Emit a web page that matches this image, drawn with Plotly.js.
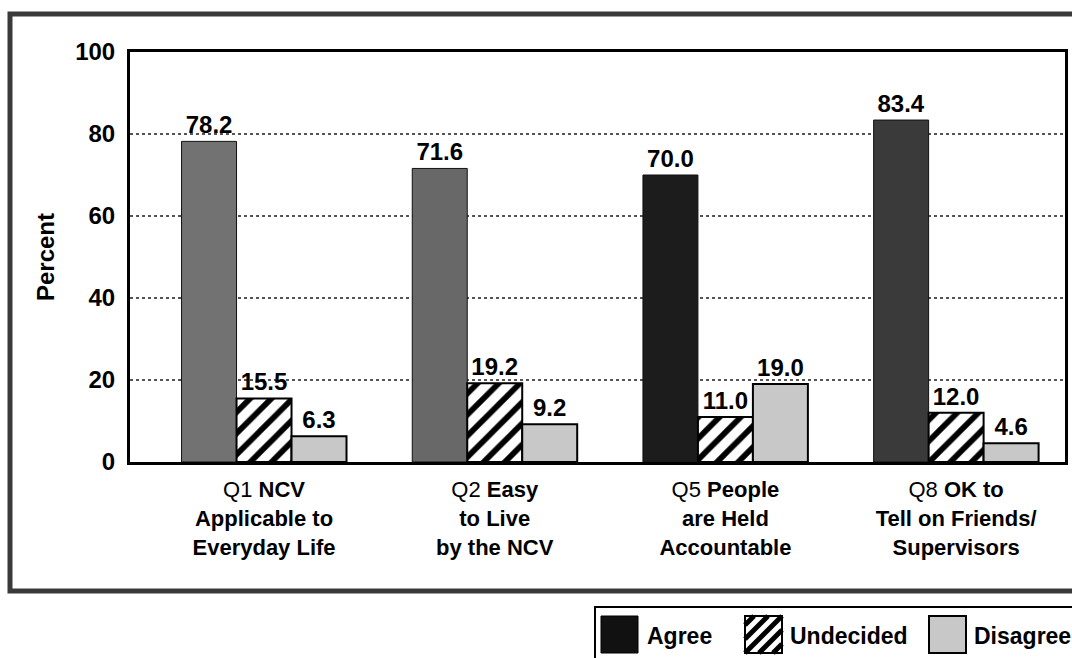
<!DOCTYPE html>
<html>
<head>
<meta charset="utf-8">
<script src="https://cdn.plot.ly/plotly-3.0.1.min.js"></script>
<style>html,body{margin:0;padding:0;background:#fff;}#chart{width:1072px;height:658px;}</style>
</head>
<body>
<div id="chart"></div>
<script>
const categories = [
  "Q1 <b>NCV</b><br><b>Applicable to</b><br><b>Everyday Life</b>",
  "Q2 <b>Easy</b><br><b>to Live</b><br><b>by the NCV</b>",
  "Q5 <b>People</b><br><b>are Held</b><br><b>Accountable</b>",
  "Q8 <b>OK to</b><br><b>Tell on Friends/</b><br><b>Supervisors</b>"
];
const seriesNames = ["Agree", "Undecided", "Disagree"];
const agree = [78.2, 71.6, 70.0, 83.4];
const undecided = [15.5, 19.2, 11.0, 12.0];
const disagree = [6.3, 9.2, 19.0, 4.6];
const yTicks = [0, 20, 40, 60, 80, 100];

const FONT = "Liberation Sans, Arial, Helvetica, sans-serif";
const agreeColors = ["#727272", "#686868", "#1c1c1c", "#3a3a3a"];

// plot-area pixel geometry helpers (for decorations only)
const L = 130, R = 1065, T = 52, B = 462;
const px = x => (x - L) / (R - L);
const py = y => (B - y) / (B - T);

const valText = {size: 24, color: "#000", family: FONT, weight: "bold"};

const traces = [
  {
    type: "bar", name: seriesNames[0], x: categories, y: agree,
    marker: {color: agreeColors, line: {color: "#111", width: 1}},
    text: agree.map(v => v.toFixed(1)), textposition: "outside",
    textfont: valText, cliponaxis: false, constraintext: "none", showlegend: false, hoverinfo: "skip"
  },
  {
    type: "bar", name: seriesNames[1], x: categories, y: undecided,
    marker: {color: "#fff", line: {color: "#000", width: 2},
      pattern: {shape: "/", size: 15, solidity: 0.38, fgcolor: "#000", bgcolor: "#fff", fillmode: "replace"}},
    text: undecided.map(v => v.toFixed(1)), textposition: "outside",
    textfont: valText, cliponaxis: false, constraintext: "none", showlegend: false, hoverinfo: "skip"
  },
  {
    type: "bar", name: seriesNames[2], x: categories, y: disagree,
    marker: {color: "#c8c8c8", line: {color: "#000", width: 2}},
    text: disagree.map(v => v.toFixed(1)), textposition: "outside",
    textfont: valText, cliponaxis: false, constraintext: "none", showlegend: false, hoverinfo: "skip"
  }
];

const shapes = [];
const annotations = [];
// outer frame
shapes.push({type: "rect", xref: "paper", yref: "paper",
  x0: px(10), x1: px(1100), y0: py(14), y1: py(591),
  line: {color: "#3a3a3a", width: 5}, fillcolor: "rgba(0,0,0,0)", layer: "below"});
// legend box (cut off at the right and bottom edges like the reference)
shapes.push({type: "rect", xref: "paper", yref: "paper",
  x0: px(595), x1: px(1100), y0: py(607), y1: py(680),
  line: {color: "#000", width: 2}, fillcolor: "rgba(0,0,0,0)"});
const sw = 37, sy = 616;
const swX = [601, 745, 929];
const txtX = [645, 788, 972];
shapes.push({type: "rect", xref: "paper", yref: "paper",
  x0: px(swX[0]), x1: px(swX[0] + sw), y0: py(sy), y1: py(sy + sw),
  line: {color: "#000", width: 1}, fillcolor: "#111"});
shapes.push({type: "rect", xref: "paper", yref: "paper",
  x0: px(swX[1]), x1: px(swX[1] + sw), y0: py(sy), y1: py(sy + sw),
  line: {color: "#000", width: 2}, fillcolor: "#fff"});
[9, 23, 37, 51, 65].forEach(c => {
  let x0, y0, x1, y1;
  const s = sw, ox = swX[1], oy = sy;
  if (c <= s) { x0 = ox; y0 = oy + c; x1 = ox + c; y1 = oy; }
  else { x0 = ox + c - s; y0 = oy + s; x1 = ox + s; y1 = oy + c - s; }
  shapes.push({type: "line", xref: "paper", yref: "paper",
    x0: px(x0), y0: py(y0), x1: px(x1), y1: py(y1), line: {color: "#000", width: 5}});
});
shapes.push({type: "rect", xref: "paper", yref: "paper",
  x0: px(swX[2]), x1: px(swX[2] + sw), y0: py(sy), y1: py(sy + sw),
  line: {color: "#000", width: 2}, fillcolor: "#c8c8c8"});
seriesNames.forEach((n, i) => {
  annotations.push({xref: "paper", yref: "paper", x: px(txtX[i]), y: py(sy + sw / 2 + 1),
    xanchor: "left", yanchor: "middle", showarrow: false, text: "<b>" + n + "</b>",
    font: {size: 23, color: "#000", family: FONT}});
});

const layout = {
  width: 1072, height: 658,
  margin: {l: L, r: 1072 - R, t: T, b: 658 - B, pad: 0},
  paper_bgcolor: "#fff", plot_bgcolor: "#fff",
  font: {family: FONT, color: "#000"},
  barmode: "group", bargap: 0.285, bargroupgap: 0,
  showlegend: false,
  xaxis: {
    type: "category", range: [-0.581, 3.472],
    showline: true, linecolor: "#000", linewidth: 3, mirror: true,
    ticks: "", showgrid: false, zeroline: false,
    tickfont: {size: 22, family: FONT, color: "#000"},
    ticklabelstandoff: 6, automargin: false
  },
  yaxis: {
    range: [0, 100], tickvals: yTicks, ticktext: yTicks.map(String),
    showline: true, linecolor: "#000", linewidth: 3, mirror: true,
    ticks: "", zeroline: false,
    showgrid: true, gridcolor: "#555", gridwidth: 1.5, griddash: "dot",
    tickfont: {size: 24, family: FONT, color: "#000", weight: "bold"},
    ticklabelstandoff: 7, automargin: false,
    title: {text: "<b>Percent</b>", font: {size: 24, family: FONT, color: "#000"}, standoff: 14}
  },
  shapes: shapes,
  annotations: annotations
};

Plotly.newPlot("chart", traces, layout, {displayModeBar: false, staticPlot: true});
</script>
</body>
</html>
